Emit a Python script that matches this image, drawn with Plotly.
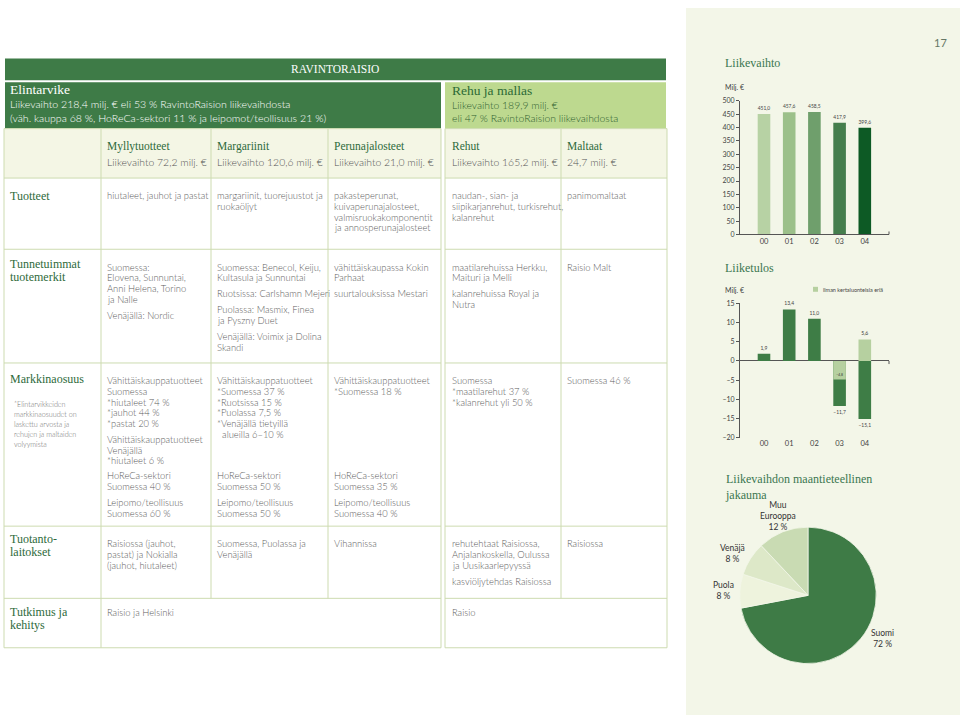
import plotly.graph_objects as go

W, H = 960, 720

# ---------------- data ----------------
YEARS = ["00", "01", "02", "03", "04"]
NET_SALES = [451.0, 457.6, 458.5, 417.9, 399.6]
NET_SALES_TICKS = [0, 50, 100, 150, 200, 250, 300, 350, 400, 450, 500]
OPERATING_PROFIT = [1.9, 13.4, 11.0, -11.7, -15.1]
OPERATING_PROFIT_EXCL = [None, None, None, -4.8, 5.6]
OP_TICKS = [15, 10, 5, 0, -5, -10, -15, -20]
GEO_LABELS = ["Suomi", "Puola", "Venäjä", "Muu Eurooppa"]
GEO_VALUES = [72, 8, 8, 12]

PAGE_NUMBER = "17"
SECTION = "RAVINTORAISIO"
DIV_FOOD_TITLE = "Elintarvike"
DIV_FOOD_LINES = ["Liikevaihto 218,4 milj. € eli 53 % RavintoRaision liikevaihdosta",
                  "(väh. kauppa 68 %, HoReCa-sektori 11 % ja leipomot/teollisuus 21 %)"]
DIV_FEED_TITLE = "Rehu ja mallas"
DIV_FEED_LINES = ["Liikevaihto 189,9 milj. €", "eli 47 % RavintoRaision liikevaihdosta"]
UNIT_NAMES = ["Myllytuotteet", "Margariinit", "Perunajalosteet", "Rehut", "Maltaat"]
UNIT_SALES = ["Liikevaihto 72,2 milj. €", "Liikevaihto 120,6 milj. €", "Liikevaihto 21,0 milj. €",
              "Liikevaihto 165,2 milj. €", "24,7 milj. €"]
ROW_LABELS = [["Tuotteet"], ["Tunnetuimmat", "tuotemerkit"], ["Markkinaosuus"],
              ["Tuotanto-", "laitokset"], ["Tutkimus ja", "kehitys"]]
MARKET_NOTE = ["*Elintarvikkeiden", "markkinaosuudet on", "laskettu arvosta ja",
               "rehujen ja maltaiden", "volyymista"]

PRODUCTS = [
    [["hiutaleet, jauhot ja pastat"]],
    [["margariinit, tuorejuustot ja", "ruokaöljyt"]],
    [["pakasteperunat,", "kuivaperunajalosteet,", "valmisruokakomponentit", "ja annosperunajalosteet"]],
    [["naudan-, sian- ja", "siipikarjanrehut, turkisrehut,", "kalanrehut"]],
    [["panimomaltaat"]],
]
BRANDS = [
    [["Suomessa:", "Elovena, Sunnuntai,", "Anni Helena, Torino", "ja Nalle"], ["Venäjällä: Nordic"]],
    [["Suomessa: Benecol, Keiju,", "Kultasula ja Sunnuntai"], ["Ruotsissa: Carlshamn Mejeri"],
     ["Puolassa: Masmix, Finea", "ja Pyszny Duet"], ["Venäjällä: Voimix ja Dolina", "Skandi"]],
    [["vähittäiskaupassa Kokin", "Parhaat"], ["suurtalouksissa Mestari"]],
    [["maatilarehuissa Herkku,", "Maituri ja Melli"], ["kalanrehuissa Royal ja", "Nutra"]],
    [["Raisio Malt"]],
]
MARKET_RETAIL = [
    [["Vähittäiskauppatuotteet", "Suomessa", "*hiutaleet 74 %", "*jauhot 44 %", "*pastat 20 %"],
     ["Vähittäiskauppatuotteet", "Venäjällä", "*hiutaleet 6 %"]],
    [["Vähittäiskauppatuotteet", "*Suomessa 37 %", "*Ruotsissa 15 %", "*Puolassa 7,5 %",
      "*Venäjällä tietyillä", "\u00a0\u00a0alueilla 6–10 %"]],
    [["Vähittäiskauppatuotteet", "*Suomessa 18 %"]],
    [["Suomessa", "*maatilarehut 37 %", "*kalanrehut yli 50 %"]],
    [["Suomessa 46 %"]],
]
MARKET_HORECA = [["HoReCa-sektori", "Suomessa 40 %"], ["HoReCa-sektori", "Suomessa 50 %"],
                 ["HoReCa-sektori", "Suomessa 35 %"], None, None]
MARKET_INDUSTRY = [["Leipomo/teollisuus", "Suomessa 60 %"], ["Leipomo/teollisuus", "Suomessa 50 %"],
                   ["Leipomo/teollisuus", "Suomessa 40 %"], None, None]
PLANTS = [
    [["Raisiossa (jauhot,", "pastat) ja Nokialla", "(jauhot, hiutaleet)"]],
    [["Suomessa, Puolassa ja", "Venäjällä"]],
    [["Vihannissa"]],
    [["rehutehtaat Raisiossa,", "Anjalankoskella, Oulussa", "ja Uusikaarlepyyssä"], ["kasviöljytehdas Raisiossa"]],
    [["Raisiossa"]],
]
RND = [[["Raisio ja Helsinki"]], None, None, [["Raisio"]], None]

CHART_TITLES = ["Liikevaihto", "Liiketulos", "Liikevaihdon maantieteellinen<br>jakauma"]
UNIT_LABEL = "Milj. €"
LEGEND_LABEL = "ilman kertaluonteisia eriä"

# ---------------- styles ----------------
SERIF = "Liberation Serif"
SANS = "Lato"
DARKG = "#3e7b47"
LIGHTG_BOX = "#bdd98f"
PANEL = "#f3f6e8"
CREAM = "#f4f6e5"
BORDER = "#cddbb0"
LABEL_C = "#2e6a3b"
BODY_C = "#606060"
AX = "#555555"
BAR_SHADES = ["#b7d2a4", "#9cc08a", "#6f9f6c", "#457e4d", "#0d5a25"]
OP_DARK = "#3e7d46"
OP_LIGHT = "#b6d0a0"
PIE_COLORS = ["#3e7b46", "#eef3dd", "#dde8c8", "#c9dbb3"]


def X(px):
    return px / W


def Y(py):
    return 1 - py / H


def fmt(v):
    return f"{v:.1f}".replace(".", ",").replace("-", "–")


annotations = []
shapes = []


def text(x, y, s, size, color, family=SANS, xanchor="left", yanchor="middle", align="left", weight=None):
    f = dict(size=size, color=color, family=family)
    if weight:
        f["weight"] = weight
    annotations.append(dict(x=X(x), y=Y(y), xref="paper", yref="paper", text=s, showarrow=False,
                            xanchor=xanchor, yanchor=yanchor, align=align, font=f, borderpad=0))


def rect(x0, y0, x1, y1, fill=None, line=None, lw=1):
    shapes.append(dict(type="rect", xref="paper", yref="paper", x0=X(x0), x1=X(x1), y0=Y(y1), y1=Y(y0),
                       fillcolor=fill if fill else "rgba(0,0,0,0)",
                       line=dict(color=line if line else "rgba(0,0,0,0)", width=lw if line else 0),
                       layer="below"))


def hline(x0, x1, y, color=BORDER):
    shapes.append(dict(type="line", xref="paper", yref="paper", x0=X(x0), x1=X(x1), y0=Y(y), y1=Y(y),
                       line=dict(color=color, width=1), layer="below"))


def vline(x, y0, y1, color=BORDER):
    shapes.append(dict(type="line", xref="paper", yref="paper", x0=X(x), x1=X(x), y0=Y(y0), y1=Y(y1),
                       line=dict(color=color, width=1), layer="below"))


def block(title, lines, title_color):
    head = (f"<span style='font-family:{SERIF};font-size:13.5px;font-weight:400;"
            f"color:{title_color}'>{title}</span>")
    return "<br>".join([head] + lines)


# ---------------- right panel ----------------
rect(686, 3, 960, 718, fill=PANEL)
text(948, 38, PAGE_NUMBER, 11, "#667766", xanchor="right")

# ---------------- table frame ----------------
LB = (4, 441)
RB = (445, 667)
COLS = [101, 211, 328, 561]
ROW_TOP = [175, 247, 362, 527, 600]
TABLE_TOP, TABLE_BOTTOM = 125, 650

rect(5, 54, 666, 76, fill=DARKG)
rect(5, 78, LB[1], 125, fill=DARKG)
rect(RB[0], 78, 666, 125, fill=LIGHTG_BOX)
rect(LB[0], TABLE_TOP, LB[1], ROW_TOP[0], fill=CREAM)
rect(RB[0], TABLE_TOP, RB[1], ROW_TOP[0], fill=CREAM)
rect(LB[0], TABLE_TOP, LB[1], TABLE_BOTTOM, line=BORDER)
rect(RB[0], TABLE_TOP, RB[1], TABLE_BOTTOM, line=BORDER)
for yy in ROW_TOP:
    hline(LB[0], LB[1], yy)
    hline(RB[0], RB[1], yy)
vline(COLS[0], TABLE_TOP, TABLE_BOTTOM)
for cx in COLS[1:]:
    vline(cx, TABLE_TOP, ROW_TOP[-1])

text(335, 65, SECTION, 11.5, "#ffffff", family=SERIF, xanchor="center")
text(9, 77, block(DIV_FOOD_TITLE, DIV_FOOD_LINES, "#ffffff"), 10.6, "#ffffff", yanchor="top", weight=300)
text(451, 78, block(DIV_FEED_TITLE, DIV_FEED_LINES, "#2c6a35"), 10.4, "#2f5f30", yanchor="top", weight=300)

COL_X = [106, 216, 333, 451, 566]
for cx, name, sales in zip(COL_X, UNIT_NAMES, UNIT_SALES):
    text(cx, 143, name, 11.5, LABEL_C, family=SERIF)
    text(cx, 159, sales, 10.4, "#555555", weight=300)

LABEL_Y = [193, 262, 378, 540, 614]
for ly, lines in zip(LABEL_Y, ROW_LABELS):
    for i, s in enumerate(lines):
        text(9, ly + 13 * i, s, 12, LABEL_C, family=SERIF)
for i, s in enumerate(MARKET_NOTE):
    text(13, 404 + 10 * i, s, 7.2, "#707070", weight=300)

LH = 10.8
PG = 5.5
BODY_SIZE = 9.4


def place_cell(x, y0, paragraphs):
    y = y0
    for para in paragraphs:
        for s in para:
            text(x, y, s, BODY_SIZE, BODY_C, weight=300)
            y += LH
        y += PG


BODY_Y = [193, 265, 380, 545, 614]
for row, y0 in zip([PRODUCTS, BRANDS, MARKET_RETAIL, PLANTS, RND], BODY_Y):
    for cx, cell in zip(COL_X, row):
        if cell:
            place_cell(cx, y0, cell)
for cx, hc, ind in zip(COL_X, MARKET_HORECA, MARKET_INDUSTRY):
    if hc:
        place_cell(cx, 476, [hc])
    if ind:
        place_cell(cx, 503, [ind])

# ---------------- charts ----------------
fig = go.Figure()

fig.add_trace(go.Bar(
    x=YEARS, y=NET_SALES, marker=dict(color=BAR_SHADES, line=dict(width=0)),
    text=[fmt(v) for v in NET_SALES], textposition="outside",
    textfont=dict(size=5, color="#444444", family=SANS), cliponaxis=False,
    xaxis="x", yaxis="y", showlegend=False, hoverinfo="skip"))

fig.add_trace(go.Bar(
    x=YEARS, y=OPERATING_PROFIT, marker=dict(color=OP_DARK, line=dict(width=0)),
    text=[fmt(v) for v in OPERATING_PROFIT], textposition="outside",
    textfont=dict(size=5, color="#444444", family=SANS), cliponaxis=False,
    xaxis="x2", yaxis="y2", showlegend=False, hoverinfo="skip"))

fig.add_trace(go.Bar(
    x=YEARS, y=OPERATING_PROFIT_EXCL, marker=dict(color=OP_LIGHT, line=dict(width=0)),
    text=["" if v is None else fmt(v) for v in OPERATING_PROFIT_EXCL],
    textposition=["none" if v is None else ("inside" if v < 0 else "outside") for v in OPERATING_PROFIT_EXCL],
    insidetextanchor="end", textangle=0,
    textfont=dict(size=5, color="#333333", family=SANS), cliponaxis=False,
    xaxis="x2", yaxis="y2", showlegend=False, hoverinfo="skip"))

fig.add_trace(go.Pie(
    labels=GEO_LABELS, values=GEO_VALUES, sort=False, direction="clockwise", rotation=0,
    marker=dict(colors=PIE_COLORS, line=dict(color=PANEL, width=0.8)),
    textinfo="none", hoverinfo="skip", showlegend=False,
    domain=dict(x=[X(739), X(877)], y=[Y(666), Y(528)])))

# chart titles / units / legend
text(724, 59, CHART_TITLES[0], 12, "#3b7650", family=SERIF)
text(724, 266, CHART_TITLES[1], 12, "#3b7650", family=SERIF)
text(724, 471, CHART_TITLES[2], 12, "#3b7650", family=SERIF, yanchor="top")
text(724, 83, UNIT_LABEL, 7, "#444444")
text(724, 288, UNIT_LABEL, 7, "#444444")
rect(813, 285, 818, 290, fill=OP_LIGHT)
text(822, 288, LEGEND_LABEL, 5.5, "#444444")

PIE_LABEL_POS = [(882, 641), (723, 592), (732, 555), (778, 517)]
for (px, py), lab, val in zip(PIE_LABEL_POS, GEO_LABELS, GEO_VALUES):
    text(px, py, f"{lab.replace(' ', '<br>')}<br>{val} %", 8.5, "#333333", xanchor="center", align="center")

# little end ticks on the category axes
shapes.append(dict(type="line", xref="x domain", yref="paper", x0=1, x1=1, y0=Y(232), y1=Y(229),
                   line=dict(color=AX, width=1)))
shapes.append(dict(type="line", xref="x2 domain", yref="y2", x0=1, x1=1, y0=0, y1=-0.8,
                   line=dict(color=AX, width=1)))

tick_font = dict(size=7, color="#444444", family=SANS)
fig.update_layout(
    width=W, height=H, margin=dict(l=0, r=0, t=0, b=0), autosize=False,
    paper_bgcolor="#ffffff", plot_bgcolor="rgba(0,0,0,0)",
    barmode="overlay", bargap=0.5, showlegend=False,
    xaxis=dict(domain=[X(740), X(889)], range=[-0.952, 4.96], type="category", anchor="y",
               showline=True, linecolor=AX, linewidth=1, ticks="", showgrid=False, zeroline=False,
               tickfont=dict(size=7.5, color="#444444", family=SANS), fixedrange=True),
    yaxis=dict(domain=[Y(232), Y(97)], range=[0, 500], anchor="x", tickvals=NET_SALES_TICKS,
               showline=True, linecolor=AX, linewidth=1, ticks="outside", ticklen=3, tickcolor=AX,
               showgrid=False, zeroline=False, tickfont=tick_font, fixedrange=True),
    xaxis2=dict(domain=[X(740), X(889)], range=[-0.952, 4.96], type="category", anchor="y2",
                showline=False, ticks="", showgrid=False, zeroline=False,
                tickfont=dict(size=7.5, color="#444444", family=SANS), fixedrange=True),
    yaxis2=dict(domain=[Y(437.7), Y(301.7)], range=[-20, 15], anchor="x2", tickvals=OP_TICKS,
                ticktext=[str(t).replace("-", "–") for t in OP_TICKS],
                showline=True, linecolor=AX, linewidth=1, ticks="outside", ticklen=3, tickcolor=AX,
                showgrid=False, zeroline=True, zerolinecolor=AX, zerolinewidth=1,
                tickfont=tick_font, fixedrange=True),
    annotations=annotations, shapes=shapes,
)

fig.write_html("out.html", config={"displayModeBar": False},
               post_script="document.body.style.margin='0';document.body.style.overflow='hidden';")
